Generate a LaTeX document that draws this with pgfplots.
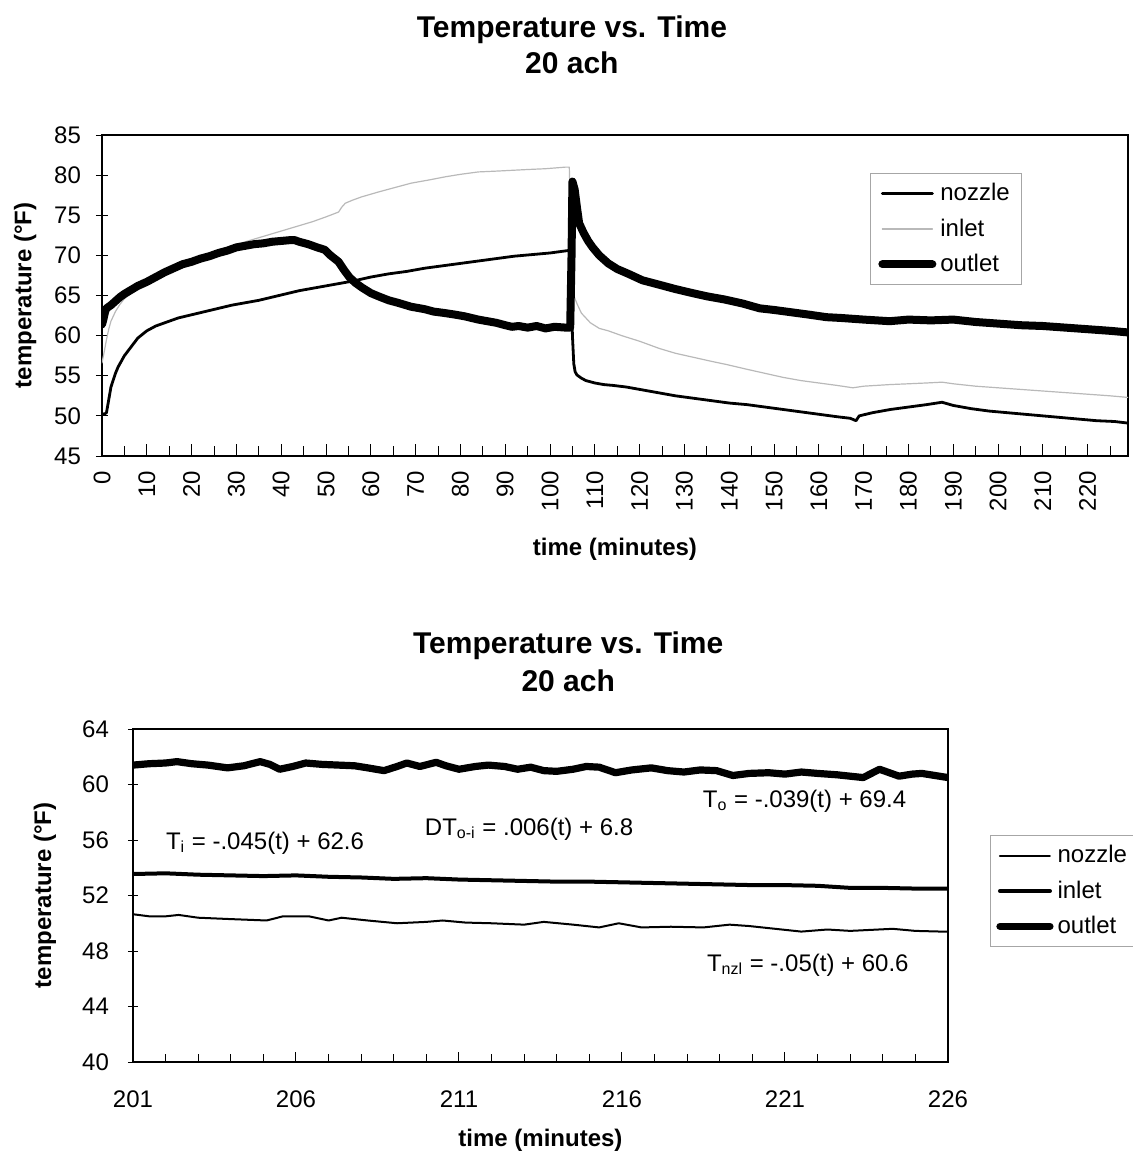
\documentclass[border=0pt]{standalone}
\usepackage{fontspec}
\setmainfont{Liberation Sans}
\usepackage{pgfplots}
\pgfplotsset{compat=1.18}
\pgfplotsset{
  mystyle/.style={
    scale only axis,
    axis line style={line width=0.9pt},
    tick style={black, line width=0.5pt},
    xtick pos=bottom, ytick pos=left,
    ticklabel style={font=\fontsize{12}{14}\selectfont},
    /pgf/number format/assume math mode=true,
    label style={font=\bfseries\fontsize{12}{14}\selectfont},
    title style={font=\bfseries\fontsize{15}{18}\selectfont, align=center, anchor=center},
    legend cell align=left,
    legend image code/.code={\draw[#1] (0pt,0pt) -- (25pt,0pt);},
    every axis plot/.append style={line join=round, line cap=round},
  }
}
\begin{document}
\begin{tikzpicture}
\useasboundingbox (0,0) rectangle (566pt,-581.5pt);
% ---------------- top chart ----------------
\begin{axis}[mystyle,
  at={(51pt,-228pt)}, anchor=south west,
  width=513pt, height=160.5pt,
  xmin=0, xmax=229, ymin=45, ymax=85,
  xtick={0,10,...,220}, minor xtick={5,15,...,225},
  ytick={45,50,...,85},
  xtick align=inside, major tick length=6pt, minor tick length=5pt,
  ytick align=center,
  xticklabel style={rotate=90, anchor=east, xshift=-4pt},
  yticklabel style={xshift=-4pt},
  title={Temperature vs. Time\\20 ach},
  title style={at={(axis description cs:0.458,1.243)}},
  xlabel={time (minutes)},
  xlabel style={at={(axis description cs:0.5,-0.29)}, anchor=center},
  ylabel={temperature (\textdegree F)},
  ylabel style={at={(axis description cs:-0.075,0.5)}, anchor=center},
  legend style={at={(axis description cs:0.7485,0.8816)}, anchor=north west,
    draw=gray!70, font=\fontsize{12}{14}\selectfont, row sep=3.5pt,
    inner xsep=4pt, inner ysep=3pt},
]
\addplot[black, line width=1.4pt] coordinates {
(0,50.3) (0.5,50.2) (1,50.4) (1.5,52.0) (2,53.6) (3,55.3) (3.6,56.1) (5,57.5)
(6.5,58.6) (8,59.7) (10,60.6) (12,61.2) (14,61.6) (17,62.2) (20,62.6) (23,63.0)
(26,63.4) (29,63.8) (32,64.1) (35,64.4) (38,64.8) (41,65.2) (44,65.6) (48,66.0)
(52,66.4) (56,66.8) (60,67.3) (64,67.7) (68,68.0) (72,68.4) (76,68.7) (80,69.0)
(84,69.3) (88,69.6) (92,69.9) (96,70.1) (100,70.3) (104,70.6) (104.5,70.7)
(105,60) (105.3,56.5) (105.6,55.5) (106,55.1) (107,54.7) (108,54.4) (110,54.1)
(112,53.9) (114,53.8) (117,53.6) (120,53.3) (124,52.9) (128,52.5) (132,52.2)
(136,51.9) (140,51.6) (144,51.4) (148,51.1) (152,50.8) (156,50.5) (160,50.2)
(164,49.9) (167,49.7) (168.3,49.4) (169,50.0) (172,50.4) (176,50.8) (180,51.1)
(184,51.4) (187.5,51.7) (190,51.3) (194,50.9) (198,50.6) (202,50.4) (206,50.2)
(210,50.0) (214,49.8) (218,49.6) (222,49.4) (226,49.3) (229,49.1)
};
\addlegendentry{nozzle}
\addplot[gray!55, line width=0.6pt] coordinates {
(0,56.6) (0.5,58.0) (1,59.5) (1.5,60.8) (2,61.8) (3,63.0) (4,63.9) (5,64.6)
(6.5,65.3) (8,65.9) (10,66.3) (12,67.0) (14,67.6) (17,68.4) (20,69.1) (23,69.8)
(26,70.5) (29,71.1) (32,71.7) (35,72.2) (38,72.7) (41,73.2) (44,73.7) (47,74.2)
(50,74.8) (52.8,75.4) (53.5,76.0) (54.3,76.5) (56,76.9) (58,77.3) (61.7,77.9)
(65,78.4) (69,79.0) (73,79.4) (76.7,79.8) (80,80.1) (84,80.4) (88,80.5)
(91.5,80.6) (95,80.7) (99,80.8) (103.5,81.0) (104.3,81.0) (104.6,75) (105,67)
(105.3,65) (106,64.0) (107,62.8) (109,61.6) (111,60.9) (113,60.6) (116,60.0)
(120,59.3) (124.4,58.4) (128,57.8) (132,57.3) (136,56.8) (139.4,56.4) (144,55.8)
(148,55.3) (152,54.8) (156,54.4) (160,54.1) (164,53.8) (167.6,53.5) (170,53.7)
(175.8,53.9) (180,54.0) (184,54.1) (187.5,54.2) (190,54.0) (195,53.7) (200,53.5)
(205,53.3) (210,53.1) (215,52.9) (220,52.7) (225,52.5) (229,52.3)
};
\addlegendentry{inlet}
\addplot[black, line width=4pt] coordinates {
(0,61.4) (0.3,62.0) (0.7,63.0) (1,63.4) (2,63.8) (3,64.3) (4,64.8) (5,65.2)
(6.5,65.7) (8,66.2) (10,66.7) (12,67.3) (14,67.9) (16,68.4) (18,68.9) (20,69.2)
(22,69.6) (24,69.9) (26,70.3) (28,70.6) (30,71.0) (32,71.2) (34,71.4) (36,71.5)
(38,71.7) (40,71.8) (42,71.9) (43,71.9) (44,71.7) (46,71.4) (48,71.0) (49.7,70.7)
(51,70.0) (52.8,69.2) (54,68.2) (55.2,67.3) (56.5,66.6) (58,66.0) (60,65.3)
(61.7,64.9) (64,64.4) (66,64.1) (69,63.6) (72,63.3) (74,63.0) (76.7,62.8)
(79,62.6) (81,62.4) (84,62.0) (86,61.8) (88,61.6) (90,61.3) (91.5,61.1) (93,61.2)
(95,61.0) (97,61.2) (99,60.9) (101,61.1) (103.5,61.0) (104.5,61.0) (104.8,70)
(105,79.2) (105.5,78.2) (106,76.0) (106.5,74.0) (107.5,72.8) (108.5,71.8)
(109.5,71.0) (111,70.0) (113,69.0) (115,68.3) (117.5,67.7) (120.6,66.9) (124,66.4)
(128,65.8) (131.8,65.3) (135,64.9) (139,64.5) (143,64.0) (146.8,63.4) (150,63.2)
(154,62.9) (158,62.6) (161.7,62.3) (165,62.2) (170,62.0) (175.8,61.8) (180,62.0)
(185,61.9) (190,62.0) (195,61.7) (200,61.5) (205,61.3) (210,61.2) (215,61.0)
(220,60.8) (225,60.6) (229,60.4)
};
\addlegendentry{outlet}
\end{axis}
% ---------------- bottom chart ----------------
\begin{axis}[mystyle,
  at={(66.5pt,-531pt)}, anchor=south west,
  width=407.5pt, height=166.5pt,
  xmin=201, xmax=226, ymin=40, ymax=64,
  xtick={201,206,...,226}, minor xtick={201,...,226},
  ytick={40,44,...,64},
  xtick align=inside, major tick length=5pt, minor tick length=4pt,
  ytick align=center,
  xticklabel style={yshift=-11pt},
  yticklabel style={xshift=-6pt},
  title={Temperature vs. Time\\20 ach},
  title style={at={(axis description cs:0.534,1.165)}, font=\bfseries\fontsize{15}{19}\selectfont},
  xlabel={time (minutes)},
  xlabel style={at={(axis description cs:0.5,-0.234)}, anchor=center},
  ylabel={temperature (\textdegree F)},
  ylabel style={at={(axis description cs:-0.108,0.5)}, anchor=center},
  legend style={at={(axis description cs:1.0515,0.6817)}, anchor=north west,
    draw=gray!70, font=\fontsize{12}{14}\selectfont, row sep=3.5pt,
    inner xsep=3pt, inner ysep=3pt},
]
\addplot[black, line width=1pt] coordinates {
(201,50.65) (201.5,50.5) (202,50.5) (202.4,50.6) (203,50.4) (204,50.3) (205.1,50.2)
(205.6,50.5) (206.4,50.5) (207,50.2) (207.4,50.4) (208.2,50.2) (209.1,50.0)
(210,50.1) (210.5,50.2) (211.2,50.05) (212,50.0) (213,49.9) (213.6,50.1)
(214.5,49.9) (215.3,49.7) (215.9,50.0) (216.6,49.7) (217.5,49.75) (218.5,49.7)
(219.3,49.9) (219.9,49.8) (220.7,49.6) (221.5,49.4) (222.3,49.55) (223,49.45)
(224.3,49.6) (225,49.45) (225.8,49.4) (226,49.4)
};
\addlegendentry{nozzle}
\addplot[black, line width=2pt] coordinates {
(201,53.55) (202,53.6) (203,53.5) (204,53.45) (205,53.4) (206,53.45) (207,53.35)
(208,53.3) (209,53.2) (210,53.25) (211,53.15) (212,53.1) (213,53.05) (214,53.0)
(215,53.0) (216,52.95) (217,52.9) (218,52.85) (219,52.8) (220,52.75) (221,52.75)
(222,52.7) (223,52.55) (224,52.55) (225,52.5) (226,52.5)
};
\addlegendentry{inlet}
\addplot[black, line width=3.6pt] coordinates {
(201,61.4) (201.5,61.5) (202,61.55) (202.35,61.65) (202.8,61.5) (203.3,61.4)
(203.9,61.2) (204.4,61.35) (204.9,61.65) (205.2,61.45) (205.5,61.1) (205.9,61.3)
(206.3,61.55) (206.8,61.45) (207.3,61.4) (207.8,61.35) (208.2,61.2) (208.7,61.0)
(209.1,61.3) (209.4,61.55) (209.8,61.3) (210.3,61.6) (210.6,61.35) (211,61.1)
(211.5,61.3) (211.9,61.4) (212.4,61.3) (212.8,61.1) (213.2,61.25) (213.6,61.0)
(214,60.95) (214.5,61.1) (214.9,61.3) (215.3,61.25) (215.8,60.85) (216.3,61.05)
(216.9,61.2) (217.4,61.0) (217.9,60.9) (218.4,61.05) (218.9,61.0) (219.4,60.65)
(219.9,60.8) (220.5,60.85) (221,60.75) (221.5,60.9) (222,60.8) (222.6,60.7)
(223,60.6) (223.4,60.5) (223.9,61.1) (224.5,60.6) (224.9,60.75) (225.2,60.8)
(225.6,60.65) (226,60.5)
};
\addlegendentry{outlet}
\node[font=\fontsize{12}{14}\selectfont] at (axis cs:205.05,55.8) {T\textsubscript{i} = -.045(t) + 62.6};
\node[font=\fontsize{12}{14}\selectfont] at (axis cs:213.15,56.8) {DT\textsubscript{o-i} = .006(t) + 6.8};
\node[font=\fontsize{12}{14}\selectfont] at (axis cs:221.6,58.8) {T\textsubscript{o} = -.039(t) + 69.4};
\node[font=\fontsize{12}{14}\selectfont] at (axis cs:221.7,47.0) {T\textsubscript{nzl} = -.05(t) + 60.6};
\end{axis}
\end{tikzpicture}
\end{document}
